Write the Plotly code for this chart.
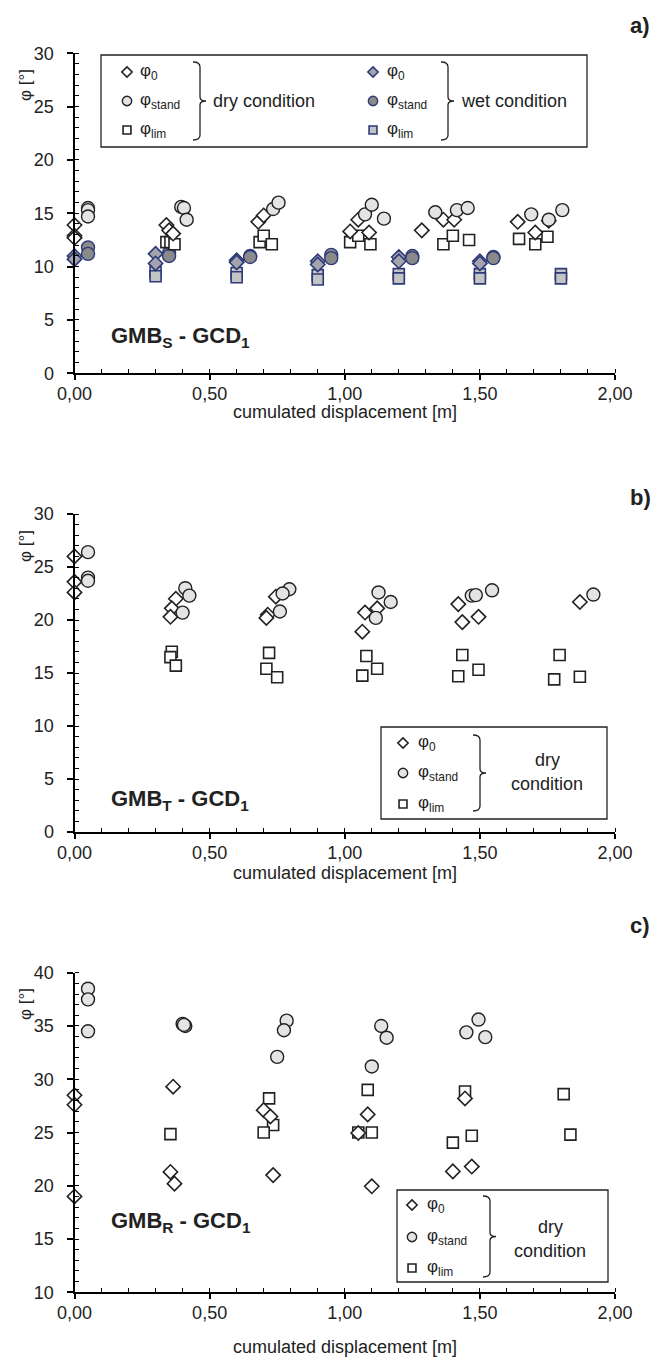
import plotly.graph_objects as go

# ---------------- data ----------------
# panel a) GMB_S - GCD_1, dry condition
a_phi0_x = [0, 0, 0, 0.34, 0.35, 0.365, 0.68, 0.70, 1.02, 1.05, 1.09, 1.285, 1.365, 1.405, 1.64, 1.705, 1.755]
a_phi0_y = [13.9, 12.9, 12.7, 13.9, 13.4, 13.1, 14.2, 14.8, 13.3, 14.4, 13.2, 13.4, 14.4, 14.4, 14.2, 13.2, 14.3]
a_stand_x = [0.05, 0.05, 0.05, 0.395, 0.405, 0.415, 0.735, 0.755, 1.075, 1.10, 1.145, 1.335, 1.415, 1.455, 1.69, 1.755, 1.805]
a_stand_y = [15.5, 15.3, 14.7, 15.6, 15.5, 14.4, 15.4, 16.0, 14.9, 15.8, 14.5, 15.1, 15.3, 15.5, 14.9, 14.4, 15.3]
a_lim_x = [0.34, 0.355, 0.37, 0.685, 0.70, 0.73, 1.02, 1.05, 1.095, 1.365, 1.40, 1.46, 1.645, 1.705, 1.75]
a_lim_y = [12.3, 12.3, 12.1, 12.3, 12.9, 12.1, 12.3, 12.9, 12.1, 12.1, 12.9, 12.5, 12.6, 12.1, 12.8]
# panel a) wet condition
a_w0_x = [0, 0, 0.30, 0.30, 0.60, 0.60, 0.90, 0.90, 1.20, 1.20, 1.50, 1.50]
a_w0_y = [11.0, 10.7, 11.2, 10.3, 10.6, 10.4, 10.5, 10.2, 10.9, 10.5, 10.5, 10.3]
a_wstand_x = [0.05, 0.05, 0.35, 0.35, 0.65, 0.65, 0.95, 0.95, 1.25, 1.25, 1.55, 1.55]
a_wstand_y = [11.8, 11.2, 11.3, 11.0, 11.0, 10.9, 11.1, 10.8, 11.0, 10.8, 10.9, 10.8]
a_wlim_x = [0.30, 0.30, 0.60, 0.60, 0.90, 0.90, 1.20, 1.20, 1.50, 1.50, 1.80, 1.80]
a_wlim_y = [9.5, 9.1, 9.4, 9.0, 9.2, 8.8, 9.3, 8.9, 9.3, 8.9, 9.3, 8.9]

# panel b) GMB_T - GCD_1, dry condition
b_phi0_x = [0, 0, 0, 0.375, 0.36, 0.355, 0.745, 0.715, 0.71, 1.075, 1.065, 1.12, 1.42, 1.435, 1.495, 1.87]
b_phi0_y = [26.0, 23.6, 22.6, 22.0, 21.1, 20.3, 22.2, 20.5, 20.2, 20.7, 18.9, 21.1, 21.5, 19.8, 20.3, 21.7]
b_stand_x = [0.05, 0.05, 0.05, 0.41, 0.425, 0.40, 0.795, 0.77, 0.76, 1.125, 1.17, 1.115, 1.47, 1.485, 1.545, 1.92]
b_stand_y = [26.4, 24.0, 23.7, 23.0, 22.3, 20.7, 22.9, 22.5, 20.8, 22.6, 21.7, 20.2, 22.3, 22.35, 22.8, 22.4]
b_lim_x = [0.36, 0.355, 0.375, 0.72, 0.71, 0.75, 1.08, 1.065, 1.12, 1.435, 1.42, 1.495, 1.795, 1.775, 1.87]
b_lim_y = [17.0, 16.5, 15.7, 16.9, 15.4, 14.6, 16.6, 14.75, 15.4, 16.7, 14.7, 15.3, 16.7, 14.4, 14.65]

# panel c) GMB_R - GCD_1, dry condition
c_phi0_x = [0, 0, 0, 0.365, 0.355, 0.37, 0.70, 0.725, 0.735, 1.085, 1.05, 1.10, 1.445, 1.40, 1.47]
c_phi0_y = [28.5, 27.6, 19.0, 29.3, 21.3, 20.2, 27.1, 26.5, 21.0, 26.7, 24.95, 19.95, 28.2, 21.35, 21.8]
c_stand_x = [0.05, 0.05, 0.05, 0.40, 0.41, 0.405, 0.785, 0.775, 0.75, 1.135, 1.155, 1.10, 1.495, 1.45, 1.52]
c_stand_y = [38.5, 37.5, 34.5, 35.2, 35.0, 35.1, 35.5, 34.6, 32.1, 35.0, 33.9, 31.2, 35.6, 34.4, 33.95]
c_lim_x = [0.355, 0.72, 0.735, 0.70, 1.085, 1.05, 1.10, 1.445, 1.47, 1.40, 1.81, 1.835]
c_lim_y = [24.85, 28.2, 25.7, 25.0, 29.0, 25.0, 25.0, 28.85, 24.7, 24.05, 28.6, 24.8]

x_ticks = [0, 0.5, 1.0, 1.5, 2.0]

# ---------------- layout helpers ----------------
W, H = 656, 1360
FONT = "Liberation Sans, Arial, sans-serif"
DARK = "#222222"
NAVY = "#2e3a78"


def px(x):
    return x / W


def py(y):
    return 1 - y / H


# plot rectangles in page pixels: (left, right, top, bottom)
rect_a = (74.5, 615, 53.3, 373.3)
rect_b = (74.5, 615, 514, 832)
rect_c = (74.5, 615, 972.7, 1292.3)

fig = go.Figure()

dry_diamond = dict(symbol="diamond", size=11, color="white", line=dict(color=DARK, width=1.6))
dry_circle = dict(symbol="circle", size=13, color="#e4e4e4", line=dict(color=DARK, width=1.4))
dry_square = dict(symbol="square", size=11, color="white", line=dict(color=DARK, width=1.6))
wet_diamond = dict(symbol="diamond", size=11, color="#a4a4ae", line=dict(color=NAVY, width=1.6))
wet_circle = dict(symbol="circle", size=13, color="#8a8a8a", line=dict(color=NAVY, width=1.4))
wet_square = dict(symbol="square", size=11, color="#c4c4c4", line=dict(color=NAVY, width=1.6))


def add(xs, ys, marker, ax):
    fig.add_trace(go.Scatter(x=xs, y=ys, mode="markers", marker=marker, cliponaxis=False,
                             xaxis="x" + ax, yaxis="y" + ax, showlegend=False, hoverinfo="skip"))


add(a_wlim_x, a_wlim_y, wet_square, "")
add(a_w0_x, a_w0_y, wet_diamond, "")
add(a_wstand_x, a_wstand_y, wet_circle, "")
add(a_lim_x, a_lim_y, dry_square, "")
add(a_phi0_x, a_phi0_y, dry_diamond, "")
add(a_stand_x, a_stand_y, dry_circle, "")

add(b_lim_x, b_lim_y, dry_square, "2")
add(b_phi0_x, b_phi0_y, dry_diamond, "2")
add(b_stand_x, b_stand_y, dry_circle, "2")

add(c_lim_x, c_lim_y, dry_square, "3")
add(c_phi0_x, c_phi0_y, dry_diamond, "3")
add(c_stand_x, c_stand_y, dry_circle, "3")

# overlay pixel axis for legends / annotations
fig.add_trace(go.Scatter(x=[], y=[], xaxis="x4", yaxis="y4", showlegend=False))

TICKFONT = dict(family=FONT, size=18, color=DARK)


def xaxis(rect, anchor):
    return dict(domain=[px(rect[0]), px(rect[1])], range=[0, 2], anchor=anchor, automargin=False,
                tickvals=x_ticks, tickformat=".2f", showgrid=False, zeroline=False,
                showline=True, linecolor="black", linewidth=2, mirror=False,
                ticks="outside", ticklen=5, tickwidth=1.5, tickcolor="black",
                minor=dict(dtick=0.1, ticks="inside", ticklen=4, tickwidth=1, tickcolor="black"),
                tickfont=TICKFONT, ticklabelstandoff=-2)


def yaxis(rect, anchor, rng):
    return dict(domain=[py(rect[3]), py(rect[2])], range=rng, anchor=anchor, automargin=False,
                dtick=5, tick0=0, showgrid=False, zeroline=False,
                showline=True, linecolor="black", linewidth=2,
                ticks="outside", ticklen=6, tickwidth=1.5, tickcolor="black",
                minor=dict(dtick=1, ticks="inside", ticklen=4, tickwidth=1, tickcolor="black"),
                tickfont=TICKFONT, ticklabelstandoff=9)


fig.update_layout(
    template="none",
    width=W, height=H, margin=dict(l=0, r=0, t=0, b=0, pad=0), autosize=False,
    paper_bgcolor="white", plot_bgcolor="rgba(0,0,0,0)",
    separators=",.",
    font=dict(family=FONT, color=DARK),
    xaxis=xaxis(rect_a, "y"), yaxis=yaxis(rect_a, "x", [0, 30]),
    xaxis2=xaxis(rect_b, "y2"), yaxis2=yaxis(rect_b, "x2", [0, 30]),
    xaxis3=xaxis(rect_c, "y3"), yaxis3=yaxis(rect_c, "x3", [10, 40]),
    xaxis4=dict(domain=[0, 1], range=[0, W], visible=False, fixedrange=True, anchor="y4",
                automargin=False),
    yaxis4=dict(domain=[0, 1], range=[H, 0], visible=False, fixedrange=True, anchor="x4",
                automargin=False),
)

shapes = []
ann = []


def text(x, y, s, size=15, xanchor="left", angle=0, bold=False):
    if bold:
        s = "<b>" + s + "</b>"
    ann.append(dict(x=x, y=y, xref="x4", yref="y4", text=s, showarrow=False, xanchor=xanchor,
                    yanchor="middle", textangle=angle, borderpad=0,
                    font=dict(family=FONT, size=size, color=DARK)))


def bracket(x, y0, y1):
    mid = (y0 + y1) / 2
    path = (f"M {x-7},{y0} Q {x},{y0} {x},{y0+5} L {x},{mid-4} Q {x},{mid} {x+6},{mid} "
            f"Q {x},{mid} {x},{mid+4} L {x},{y1-5} Q {x},{y1} {x-7},{y1}")
    shapes.append(dict(type="path", path=path, xref="x4", yref="y4",
                       line=dict(color=DARK, width=1.3)))


def box(x0, x1, y0, y1):
    shapes.append(dict(type="rect", x0=x0, x1=x1, y0=y0, y1=y1, xref="x4", yref="y4",
                       line=dict(color=DARK, width=1.3), fillcolor="white", layer="below"))


def legend_symbols(xs, ys, markers):
    for xx, yy, m in zip(xs, ys, markers):
        mm = dict(m)
        mm["size"] = m["size"] * 0.72
        fig.add_trace(go.Scatter(x=[xx], y=[yy], mode="markers", marker=mm, xaxis="x4", yaxis="y4",
                                 showlegend=False, hoverinfo="skip", cliponaxis=False))


labels = ["φ<sub>0</sub>", "φ<sub>stand</sub>", "φ<sub>lim</sub>"]
LEG = 17
COND = 18

# legend a
box(101, 587, 55, 147)
rows = [72, 101, 130]
legend_symbols([127] * 3, rows, [dry_diamond, dry_circle, dry_square])
legend_symbols([373] * 3, rows, [wet_diamond, wet_circle, wet_square])
for r, l in zip(rows, labels):
    text(139, r, l, LEG)
    text(386, r, l, LEG)
bracket(200, 62, 140)
text(212, 101, "dry condition", COND)
bracket(448, 62, 140)
text(460, 101, "wet condition", COND)

# legend b
box(381, 607, 727, 819)
rows_b = [743, 773, 804]
legend_symbols([403] * 3, rows_b, [dry_diamond, dry_circle, dry_square])
for r, l in zip(rows_b, labels):
    text(417, r, l, LEG)
bracket(480, 735, 811)
text(547, 760, "dry", COND, "center")
text(547, 784, "condition", COND, "center")

# legend c
box(397, 608, 1190, 1282)
rows_c = [1205, 1237, 1268]
legend_symbols([412] * 3, rows_c, [dry_diamond, dry_circle, dry_square])
for r, l in zip(rows_c, labels):
    text(426, r, l, LEG)
bracket(490, 1196, 1277)
text(550, 1227, "dry", COND, "center")
text(550, 1251, "condition", COND, "center")

# titles and labels
for yy in (85, 546, 1004):
    text(25, yy, "φ [°]", 17, "center", -90)
for yy in (412, 873, 1347):
    text(345, yy, "cumulated displacement [m]", 18, "center")
text(640, 25, "a)", 22, "center", bold=True)
text(640, 497, "b)", 22, "center", bold=True)
text(640, 925, "c)", 22, "center", bold=True)
text(110, 337, "GMB<sub>S</sub> - GCD<sub>1</sub>", 22, bold=True)
text(110, 800, "GMB<sub>T</sub> - GCD<sub>1</sub>", 22, bold=True)
text(110, 1222, "GMB<sub>R</sub> - GCD<sub>1</sub>", 22, bold=True)

fig.update_layout(shapes=shapes, annotations=ann)
fig.write_html("out.html")
